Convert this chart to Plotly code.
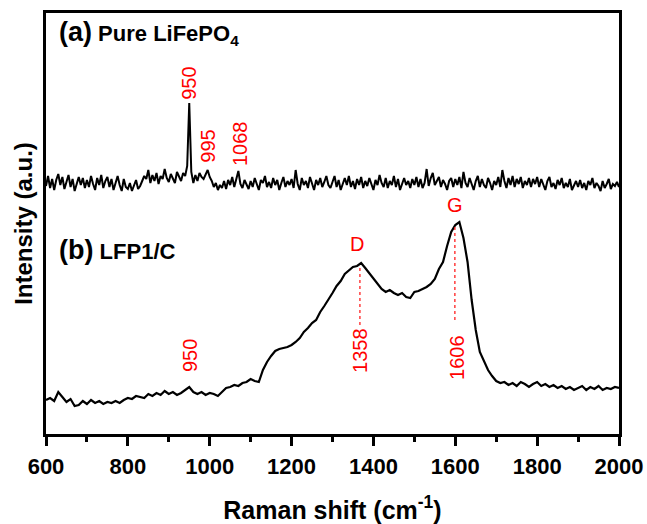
import plotly.graph_objects as go

# ---- data (intensity in arbitrary units) ----
shift_a = list(range(600, 2001, 5))
intensity_a = [
    248,258,246,255,244,254,260,249,257,245,252,259,247,255,243,251,257,249,256,246,
    254,247,258,250,244,256,249,259,246,253,257,247,255,244,251,258,249,243,255,247,
    245,251,243,249,254,245,248,253,258,255,264,251,259,253,261,250,258,255,265,256,
    252,260,256,251,262,257,253,261,258,268,331,262,251,259,253,261,257,255,260,264,
    257,253,247,251,244,249,246,253,245,254,249,257,247,254,263,250,246,254,249,245,
    253,247,256,249,244,254,251,258,247,252,246,256,249,254,244,251,257,247,253,249,
    255,246,264,250,244,256,249,253,246,257,250,244,254,249,256,247,252,258,249,246,
    252,258,247,254,244,251,256,249,258,247,253,245,255,249,257,246,253,248,256,250,
    244,254,249,259,251,247,256,246,253,249,258,247,255,244,251,256,249,253,246,255,
    249,257,247,255,246,251,265,248,256,261,249,253,257,247,254,250,244,253,256,247,
    255,249,257,246,262,251,247,256,249,244,253,258,247,255,249,246,256,251,244,253,
    249,257,247,264,253,246,256,249,258,247,255,250,257,246,253,249,256,247,255,250,
    257,247,255,249,244,253,257,247,251,245,254,249,256,246,251,247,255,244,249,253,
    247,254,246,251,244,253,249,256,246,251,248,243,253,246,250,255,245,250,248,252,
    247,
]

shift_b = list(range(600, 2001, 10))
intensity_b = [
    34,36,33,42,37,32,35,28,29,33,
    30,34,31,33,30,32,31,33,31,34,
    36,35,38,37,36,40,38,41,39,43,
    40,42,39,41,44,47,42,40,42,39,
    41,40,38,42,46,47,49,48,51,52,
    55,53,52,64,72,78,83,85,86,87,
    89,92,96,102,106,111,114,122,128,134,
    141,148,153,160,164,167,168,171,166,161,
    155,150,145,142,144,141,139,141,137,136,
    142,143,145,147,150,155,165,172,188,202,
    209,212,196,172,134,104,82,72,64,58,
    53,51,52,49,51,48,52,50,47,50,
    52,48,50,47,49,46,48,45,47,44,
    46,48,44,47,45,48,44,46,45,47,
    46,
]

peak_labels_a = ["950", "995", "1068"]
peak_pos_a = [949, 995, 1074]
peak_y_a = [351, 288, 290]

peak_labels_b = ["950", "1358", "1606"]
peak_pos_b = [952, 1367, 1604]
peak_y_b = [78, 84, 77]

band_names = ["D", "G"]
band_pos = [1360, 1599]
band_y = [190, 229]
band_line_x = [1367, 1599]
band_line_top = [166, 207]
band_line_bottom = [109, 114]

x_ticks = [600, 800, 1000, 1200, 1400, 1600, 1800, 2000]

FONT = "Liberation Sans, Arial, sans-serif"

fig = go.Figure()
fig.add_trace(go.Scatter(x=shift_a, y=intensity_a, mode="lines",
                         line=dict(color="black", width=2), showlegend=False))
fig.add_trace(go.Scatter(x=shift_b, y=intensity_b, mode="lines",
                         line=dict(color="black", width=2.2), showlegend=False))

for lx, lt, lb in zip(band_line_x, band_line_top, band_line_bottom):
    fig.add_trace(go.Scatter(x=[lx, lx], y=[lb, lt], mode="lines",
                             line=dict(color="#ff2020", width=1.3, dash="dot"),
                             showlegend=False))

red = dict(family=FONT, size=20, color="red")
for t, px, py in zip(peak_labels_a + peak_labels_b, peak_pos_a + peak_pos_b, peak_y_a + peak_y_b):
    fig.add_annotation(x=px, y=py, text=t, textangle=-90, showarrow=False,
                       font=red, xanchor="center", yanchor="middle")
for t, px, py in zip(band_names, band_pos, band_y):
    fig.add_annotation(x=px, y=py, text=t, showarrow=False, font=red,
                       xanchor="center", yanchor="middle")

fig.add_annotation(x=627, y=401, xanchor="left", yanchor="middle", showarrow=False,
                   text="<b><span style='font-size:27px'>(a)</span> Pure LiFePO<sub>4</sub></b>",
                   font=dict(family=FONT, size=22, color="black"))
fig.add_annotation(x=627, y=184, xanchor="left", yanchor="middle", showarrow=False,
                   text="<b><span style='font-size:27px'>(b)</span> LFP1/C</b>",
                   font=dict(family=FONT, size=22, color="black"))

fig.update_layout(
    width=647, height=524,
    margin=dict(l=46, r=28, t=13, b=90, autoexpand=False),
    paper_bgcolor="white", plot_bgcolor="white",
    font=dict(family=FONT, color="black"),
)
fig.update_xaxes(
    range=[600, 2000], tickvals=x_ticks, ticktext=[f"<b>{v}</b>" for v in x_ticks],
    ticks="outside", ticklen=9, tickwidth=2.5, tickcolor="black",
    tickfont=dict(family=FONT, size=22, color="black"), ticklabelstandoff=2,
    minor=dict(dtick=100, tick0=600, ticks="outside", ticklen=5, tickwidth=2.5, tickcolor="black"),
    showline=True, linewidth=2.8, linecolor="black", mirror=True,
    showgrid=False, zeroline=False, automargin=False,
    title=dict(text="<b>Raman shift (cm<sup>-1</sup>)</b>", font=dict(family=FONT, size=25), standoff=32),
)
fig.update_yaxes(
    range=[0, 421], showticklabels=False, ticks="",
    showline=True, linewidth=2.8, linecolor="black", mirror=True,
    showgrid=False, zeroline=False, automargin=False,
    title=dict(text="<b>Intensity (a.u.)</b>", font=dict(family=FONT, size=24), standoff=4),
)

fig.write_html("out.html")
